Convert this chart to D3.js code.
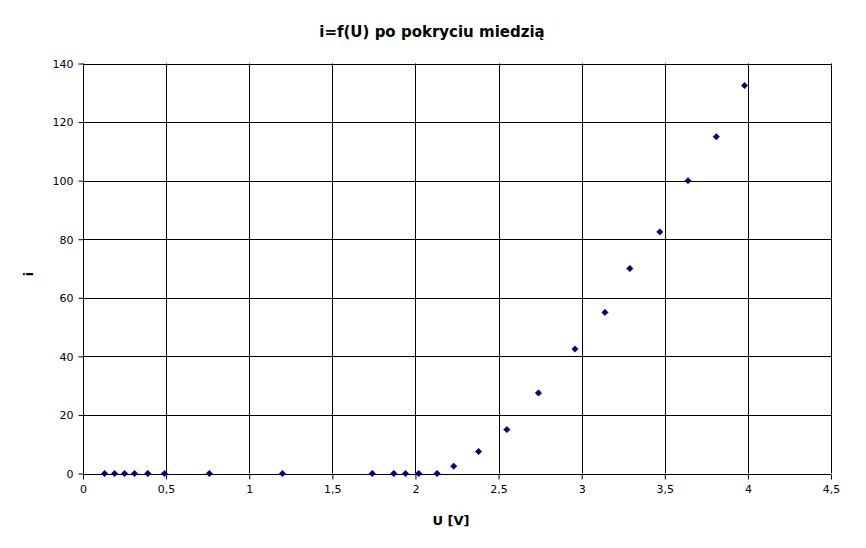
<!DOCTYPE html>
<html><head><meta charset="utf-8">
<script src="https://cdn.jsdelivr.net/npm/d3@7"></script>
<style>body{margin:0;background:#fff}</style>
</head><body>
<svg id="c" width="866" height="548"></svg>
<script>
const titleText = "i=f(U) po pokryciu miedzią";
const xLabel = "U [V]";
const yLabel = "i";
const uValues = [0.13,0.19,0.25,0.31,0.39,0.49,0.76,1.2,1.74,1.87,1.94,2.02,2.13,2.23,2.38,2.55,2.74,2.96,3.14,3.29,3.47,3.64,3.81,3.98];
const iValues = [0,0,0,0,0,0,0,0,0,0,0,0,0,2.5,7.5,15,27.5,42.5,55,70,82.5,100,115,132.5];
const xTicks = [0,0.5,1,1.5,2,2.5,3,3.5,4,4.5];
const yTicks = [0,20,40,60,80,100,120,140];

const svg = d3.select("#c");
const m = {left:83, right:831, top:63.5, bottom:473.5};
const x = d3.scaleLinear().domain([0,4.5]).range([m.left,m.right]);
const y = d3.scaleLinear().domain([0,140]).range([m.bottom,m.top]);
const fmt = d => String(d).replace(".", ",");
const font = "DejaVu Sans, sans-serif";

// grid
svg.append("g").selectAll("line").data(xTicks).join("line")
  .attr("x1", d=>Math.round(x(d))+0.5).attr("x2", d=>Math.round(x(d))+0.5)
  .attr("y1", m.top).attr("y2", m.bottom).attr("stroke","#000").attr("stroke-width",1);
svg.append("g").selectAll("line").data(yTicks).join("line")
  .attr("y1", d=>Math.round(y(d))+0.5).attr("y2", d=>Math.round(y(d))+0.5)
  .attr("x1", m.left).attr("x2", m.right).attr("stroke","#000").attr("stroke-width",1);

// axes
const xAxis = d3.axisBottom(x).tickValues(xTicks).tickFormat(fmt).tickSize(5).tickPadding(6);
const gx = svg.append("g").attr("transform",`translate(0,${Math.round(y(0))+0.5})`).call(xAxis);
const yAxis = d3.axisLeft(y).tickValues(yTicks).tickFormat(fmt).tickSize(5).tickPadding(5);
const gy = svg.append("g").attr("transform",`translate(${Math.round(x(0))+0.5},0)`).call(yAxis);
[gx,gy].forEach(g=>{
  g.select(".domain").remove();
  g.selectAll("line").attr("stroke","#000");
  g.selectAll("text").attr("font-family",font).attr("font-size",11).attr("fill","#000");
});
gy.selectAll(".tick text").attr("dy","0.35em");

// points
svg.append("g").selectAll("path").data(uValues.map((u,k)=>[u,iValues[k]])).join("path")
  .attr("d", d3.symbol().type(d3.symbolSquare).size(20))
  .attr("transform", d=>`translate(${x(d[0])},${y(d[1])}) rotate(45)`)
  .attr("fill","#000080").attr("stroke","#000080").attr("stroke-width",0.6);

// title and labels
svg.append("text").attr("x",432).attr("y",37).attr("text-anchor","middle")
  .attr("font-family",font).attr("font-size",15).attr("font-weight","bold").text(titleText);
svg.append("text").attr("x",451).attr("y",525).attr("text-anchor","middle")
  .attr("font-family",font).attr("font-size",13).attr("font-weight","bold").text(xLabel);
svg.append("text").attr("transform","translate(33,274) rotate(-90)").attr("text-anchor","middle")
  .attr("font-family",font).attr("font-size",13).attr("font-weight","bold").text(yLabel);
</script>
</body></html>
